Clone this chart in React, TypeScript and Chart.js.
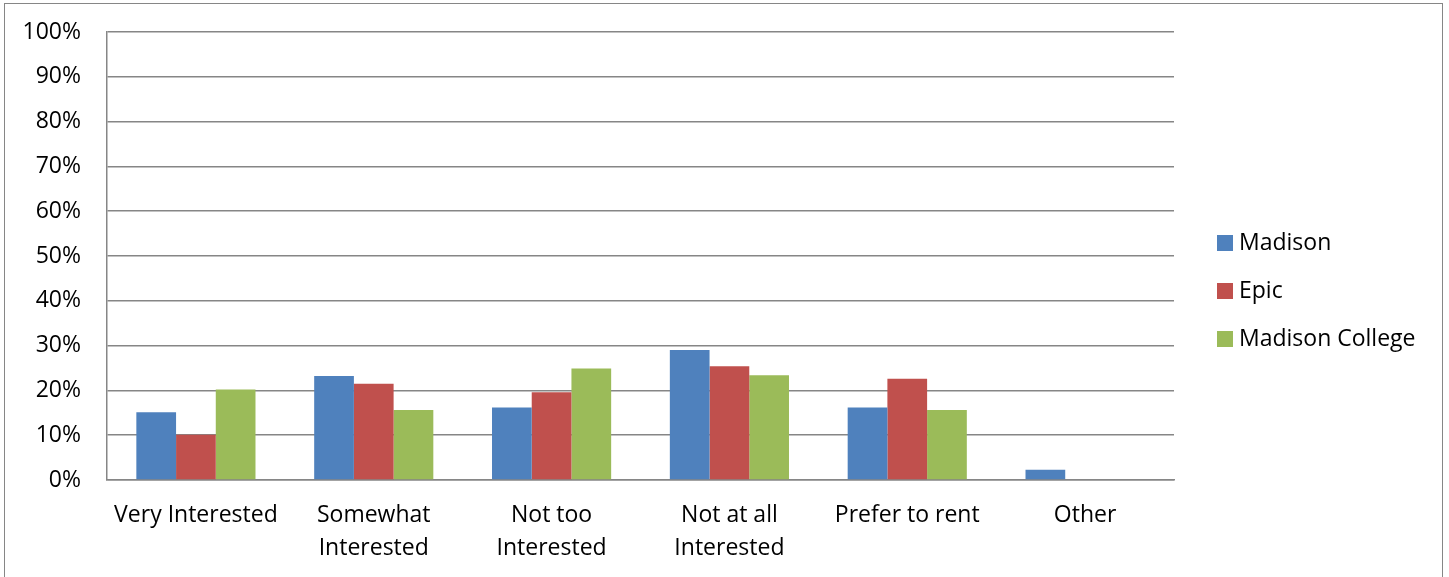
import React, { useEffect, useRef } from "react";
import { Chart, registerables } from "chart.js";

Chart.register(...registerables);

const categories: (string | string[])[] = [
  "Very Interested",
  ["Somewhat", "Interested"],
  ["Not too", "Interested"],
  ["Not at all", "Interested"],
  "Prefer to rent",
  "Other",
];
const madison = [15.1, 23.2, 16.2, 29.0, 16.2, 2.3];
const epic = [10.1, 21.5, 19.6, 25.4, 22.6, 0];
const madisonCollege = [20.2, 15.6, 24.9, 23.4, 15.6, 0];
const yTicks = [0, 10, 20, 30, 40, 50, 60, 70, 80, 90, 100];

const FONT = "'Open Sans'";
const FSIZE = 23;
const GRID = "#868686";

const legendPlugin = {
  id: "sideLegend",
  afterDraw(chart: any) {
    const ctx = chart.ctx;
    ctx.save();
    ctx.font = `${FSIZE}px ${FONT}`;
    ctx.textBaseline = "middle";
    ctx.textAlign = "left";
    chart.data.datasets.forEach((ds: any, i: number) => {
      const cy = 243 + i * 48;
      ctx.fillStyle = ds.backgroundColor;
      ctx.fillRect(1217, cy - 8, 16, 16);
      ctx.fillStyle = "#000";
      ctx.fillText(ds.label, 1239, cy);
    });
    ctx.restore();
  },
};

export default function App() {
  const ref = useRef<HTMLCanvasElement>(null);
  useEffect(() => {
    const chart = new Chart(ref.current!, {
      type: "bar",
      data: {
        labels: categories,
        datasets: [
          { label: "Madison", data: madison, backgroundColor: "#4F81BD" },
          { label: "Epic", data: epic, backgroundColor: "#C0504D" },
          { label: "Madison College", data: madisonCollege, backgroundColor: "#9BBB59" },
        ],
      },
      options: {
        animation: false,
        responsive: false,
        devicePixelRatio: 1,
        layout: { padding: { left: 7, right: 275, top: 32, bottom: 0 } },
        plugins: { legend: { display: false }, tooltip: { enabled: false } },
        datasets: { bar: { categoryPercentage: 0.67, barPercentage: 1 } },
        scales: {
          x: {
            grid: { display: false, drawTicks: false },
            border: { display: true, color: GRID, width: 1.5 },
            ticks: {
              color: "#000",
              font: { family: FONT, size: FSIZE, lineHeight: 1.43 },
              padding: 19,
              maxRotation: 0,
              autoSkip: false,
            },
            afterFit(scale: any) {
              scale.height = 97;
              scale.paddingLeft = 0;
              scale.paddingRight = 0;
            },
          },
          y: {
            min: 0,
            max: 100,
            afterBuildTicks(scale: any) {
              scale.ticks = yTicks.map((v) => ({ value: v }));
            },
            grid: { color: GRID, lineWidth: 1.5, drawTicks: false },
            border: { display: true, color: GRID, width: 1.5 },
            ticks: {
              color: "#000",
              font: { family: FONT, size: FSIZE },
              padding: 26,
              callback: (v: any) => `${v}%`,
            },
            afterFit(scale: any) {
              scale.width = 100;
              scale.paddingTop = 0;
              scale.paddingBottom = 0;
            },
          },
        },
      },
      plugins: [legendPlugin],
    });
    return () => chart.destroy();
  }, []);
  return (
    <div style={{ position: "fixed", left: 0, top: 0, width: 1449, height: 577, background: "#fff" }}>
      <canvas ref={ref} width={1449} height={577} style={{ position: "absolute", left: 0, top: 0 }} />
      <div
        style={{
          position: "absolute",
          left: 4,
          top: 3,
          width: 1439,
          height: 600,
          border: `1.5px solid ${GRID}`,
          boxSizing: "border-box",
          pointerEvents: "none",
        }}
      />
    </div>
  );
}
